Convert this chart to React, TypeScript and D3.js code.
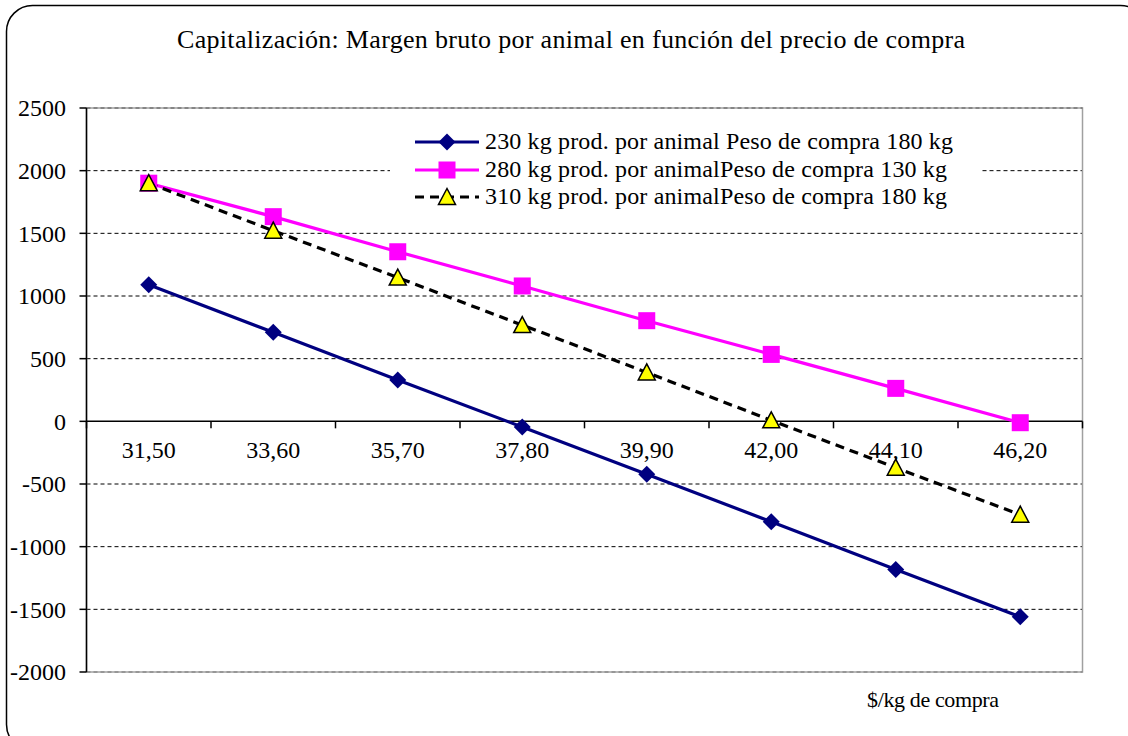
import React from "react";
import * as d3 from "d3";

const categories = ["31,50", "33,60", "35,70", "37,80", "39,90", "42,00", "44,10", "46,20"];
const seriesA = [1090, 710, 330, -45, -422, -801, -1183, -1560];
const seriesB = [1900, 1633, 1353, 1080, 803, 534, 263, -11];
const seriesC = [1900, 1521, 1147, 768, 390, 8, -370, -745];
const yTicks = [-2000, -1500, -1000, -500, 0, 500, 1000, 1500, 2000, 2500];
const legendLabels = [
  "230 kg prod. por animal Peso de compra 180 kg",
  "280 kg prod. por animalPeso de compra 130 kg",
  "310 kg prod. por animalPeso de compra 180 kg",
];
const title = "Capitalización: Margen bruto por animal en función del precio de compra";
const xTitle = "$/kg de compra";

const W = 1128;
const H = 736;
const L = 86.5, R = 1082.5, T = 108, B = 672;
const FONT = "'Liberation Serif', 'Times New Roman', serif";

export default function App() {
  const x = d3.scaleBand<string>().domain(categories).range([L, R]).padding(0);
  const y = d3.scaleLinear().domain([-2000, 2500]).range([B, T]);
  const cx = (c: string) => (x(c) as number) + x.bandwidth() / 2;
  const line = d3
    .line<number>()
    .x((_, i) => cx(categories[i]))
    .y((d) => y(d));

  const diamond = (px: number, py: number, key: any) => (
    <path key={key} d={`M${px},${py - 8.5}L${px + 8.5},${py}L${px},${py + 8.5}L${px - 8.5},${py}Z`} fill="#000080" />
  );
  const square = (px: number, py: number, key: any) => (
    <rect key={key} x={px - 8.5} y={py - 8.5} width={17} height={17} fill="#FF00FF" />
  );
  const triangle = (px: number, py: number, key: any) => (
    <path
      key={key}
      d={`M${px},${py - 8.5}L${px + 8.5},${py + 7.5}L${px - 8.5},${py + 7.5}Z`}
      fill="#FFFF00"
      stroke="#000"
      strokeWidth={1.5}
      strokeLinejoin="miter"
    />
  );

  const boundaries = [...categories.map((c) => x(c) as number), R];
  const y0 = y(0);

  const legendRowsY = [142, 170, 197];
  const legendLens = [468, 462, 462];

  return (
    <svg
      width={W}
      height={H}
      style={{ position: "absolute", left: 0, top: 0, background: "#fff" }}
      fontFamily={FONT}
    >
      <rect x={6.5} y={5.5} width={1140} height={745} rx={26} ry={26} fill="#fff" stroke="#000" strokeWidth={1.5} />

      {yTicks
        .filter((t) => t !== 0 && t !== -2000 && t !== 2500)
        .map((t) => (
          <line key={t} x1={L} x2={R} y1={y(t)} y2={y(t)} stroke="#000" strokeWidth={1} strokeDasharray="4,3" />
        ))}
      <rect x={L} y={T} width={R - L} height={B - T} fill="none" stroke="#a0a0a0" strokeWidth={1.5} />
      <line x1={L} x2={R} y1={T} y2={T} stroke="#555" strokeWidth={1} strokeDasharray="4,3" />
      <line x1={L} x2={R} y1={B} y2={B} stroke="#777" strokeWidth={1} strokeDasharray="4,3" />

      <line x1={L} x2={L} y1={T} y2={B} stroke="#000" strokeWidth={1.5} />
      {yTicks.map((t) => (
        <g key={t}>
          <line x1={L - 7} x2={L} y1={y(t)} y2={y(t)} stroke="#000" strokeWidth={1.5} />
          <text x={66} y={y(t)} dy="0.35em" textAnchor="end" fontSize={24} fill="#000">
            {t}
          </text>
        </g>
      ))}

      <line x1={L} x2={R} y1={y0} y2={y0} stroke="#000" strokeWidth={1.5} />
      {boundaries.map((b, i) => (
        <line key={i} x1={b} x2={b} y1={y0} y2={y0 + 7} stroke="#000" strokeWidth={1.5} />
      ))}
      {categories.map((c) => (
        <text key={c} x={cx(c)} y={458} textAnchor="middle" fontSize={24} fill="#000">
          {c}
        </text>
      ))}

      <path d={line(seriesA) as string} fill="none" stroke="#000080" strokeWidth={3.2} />
      <path d={line(seriesB) as string} fill="none" stroke="#FF00FF" strokeWidth={3.2} />
      <path d={line(seriesC) as string} fill="none" stroke="#000" strokeWidth={3.2} strokeDasharray="9,6" />
      {seriesA.map((v, i) => diamond(cx(categories[i]), y(v), "a" + i))}
      {seriesB.map((v, i) => square(cx(categories[i]), y(v), "b" + i))}
      {seriesC.map((v, i) => triangle(cx(categories[i]), y(v), "c" + i))}

      <rect x={390} y={124} width={590} height={90} fill="#fff" />
      <line x1={415} x2={479} y1={legendRowsY[0]} y2={legendRowsY[0]} stroke="#000080" strokeWidth={3.2} />
      {diamond(447, legendRowsY[0], "la")}
      <line x1={415} x2={479} y1={legendRowsY[1]} y2={legendRowsY[1]} stroke="#FF00FF" strokeWidth={3.2} />
      {square(447, legendRowsY[1], "lb")}
      <line x1={415} x2={479} y1={legendRowsY[2]} y2={legendRowsY[2]} stroke="#000" strokeWidth={3.2} strokeDasharray="9,6" />
      {triangle(447, legendRowsY[2], "lc")}
      {legendLabels.map((l, i) => (
        <text
          key={i}
          x={485}
          y={legendRowsY[i] + 7}
          fontSize={24}
          fill="#000"
          textLength={legendLens[i]}
          lengthAdjust="spacing"
        >
          {l}
        </text>
      ))}

      <text x={177} y={48} fontSize={26} fill="#000" textLength={788} lengthAdjust="spacing">
        {title}
      </text>
      <text x={867} y={707} fontSize={22} fill="#000" textLength={132} lengthAdjust="spacing">
        {xTitle}
      </text>
    </svg>
  );
}
